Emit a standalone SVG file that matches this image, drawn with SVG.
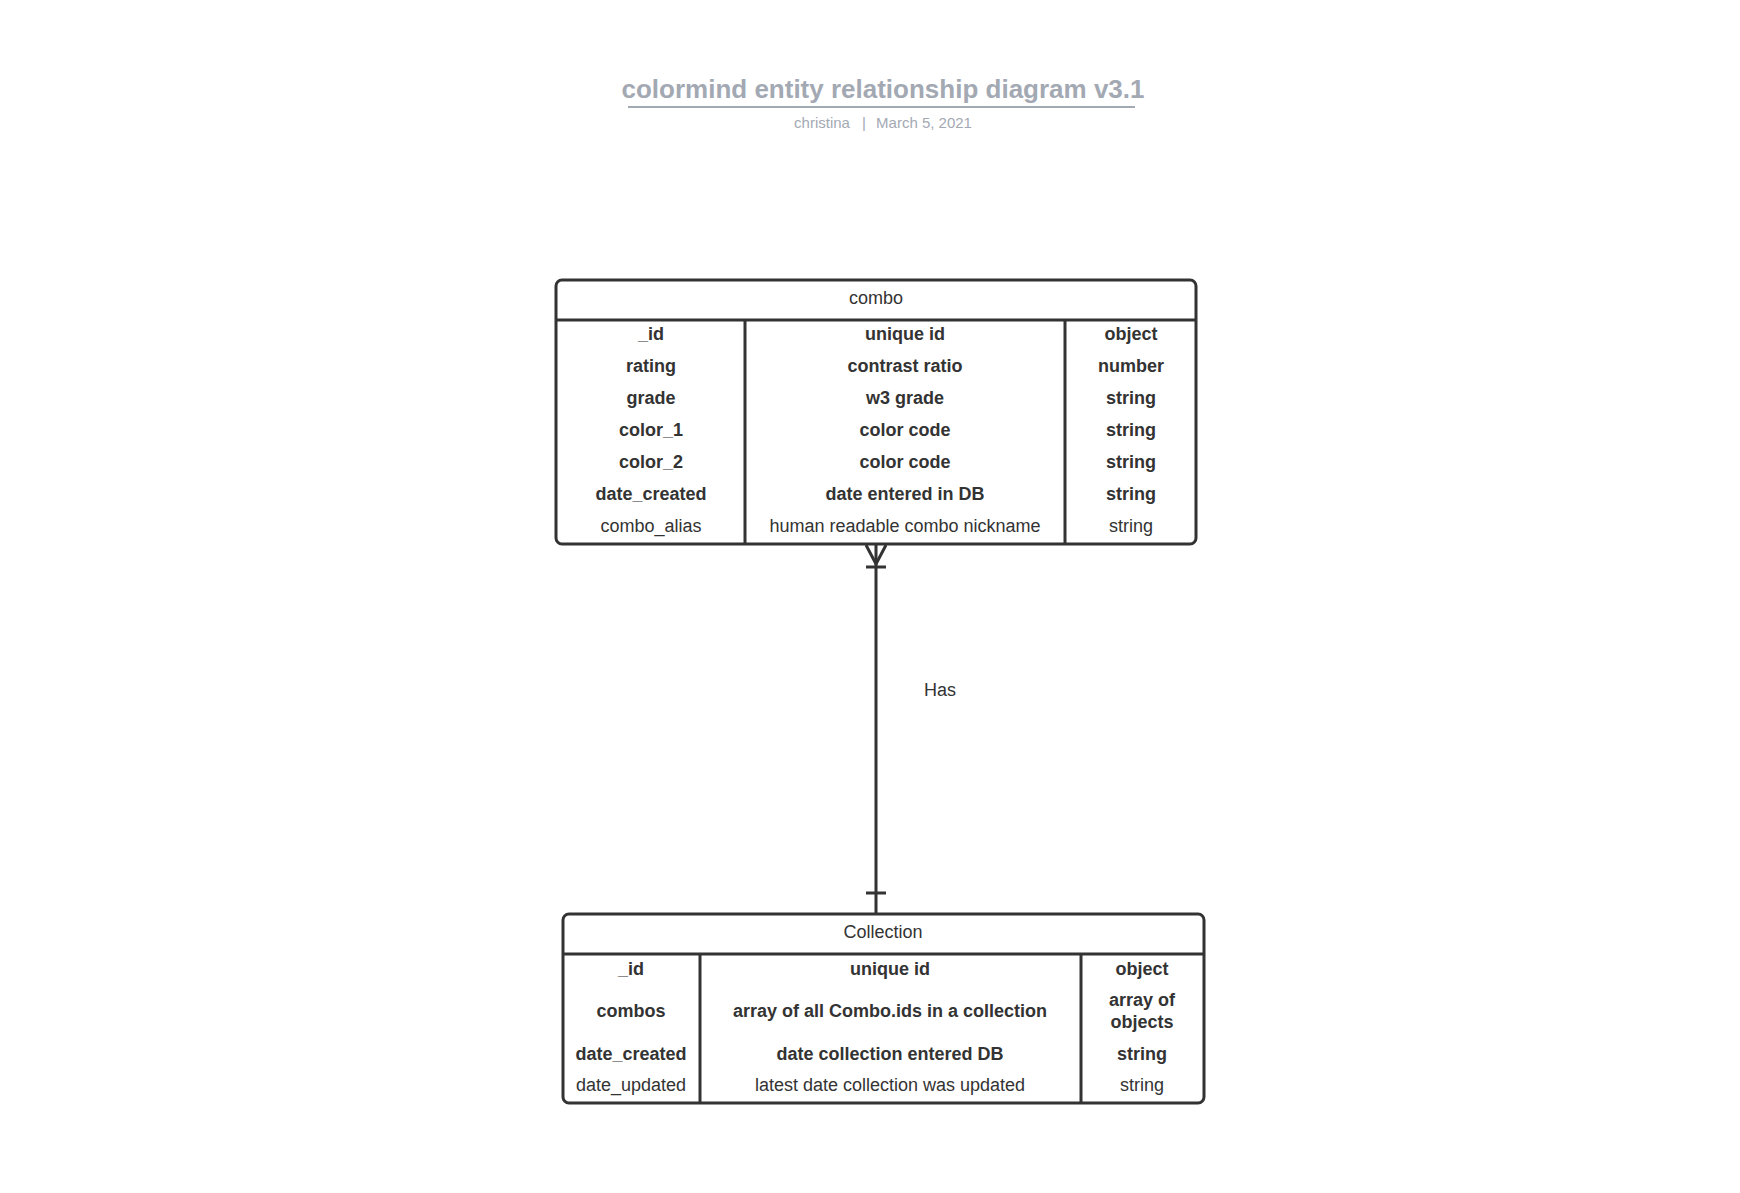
<svg xmlns="http://www.w3.org/2000/svg" width="1740" height="1193" viewBox="0 0 1740 1193">
<style>
.box{fill:#fff;stroke:#333;stroke-width:3}
.ln{stroke:#333;stroke-width:3;fill:none}
.t{font-family:"Liberation Sans",Arial,sans-serif;font-size:18px;fill:#333;text-anchor:middle}
.b{font-weight:bold}
.title{font-family:"Liberation Sans",Arial,sans-serif;font-weight:bold;font-size:26px;fill:#a3a9b3;text-anchor:middle}
.sub{font-family:"Liberation Sans",Arial,sans-serif;font-size:15px;fill:#a3a9b3;text-anchor:middle}
</style>
<rect width="1740" height="1193" fill="#fff"/>
<g id="title">
<text class="title" x="883" y="98">colormind entity relationship diagram v3.1</text>
<line x1="628" y1="107" x2="1135" y2="107" stroke="#a3a9b3" stroke-width="2"/>
<text class="sub" x="822" y="128">christina</text>
<text class="sub" x="864" y="128">|</text>
<text class="sub" x="924" y="128">March 5, 2021</text>
</g>
<g id="connectors">
<line class="ln" x1="876" y1="545" x2="876" y2="914"/>
<path class="ln" d="M866 545 L876 564 L886 545"/>
<line class="ln" x1="866" y1="567" x2="886" y2="567"/>
<line class="ln" x1="866" y1="893" x2="886" y2="893"/>
<text class="t" x="940" y="696">Has</text>
</g>
<g id="combo">
<rect class="box" x="556" y="280" width="640" height="264" rx="6"/>
<line class="ln" x1="556" y1="320" x2="1196" y2="320"/>
<line class="ln" x1="745" y1="320" x2="745" y2="544"/>
<line class="ln" x1="1065" y1="320" x2="1065" y2="544"/>
<text class="t" x="876" y="304">combo</text>
<g class="t b">
<text x="651" y="340">_id</text><text x="905" y="340">unique id</text><text x="1131" y="340">object</text>
<text x="651" y="372">rating</text><text x="905" y="372">contrast ratio</text><text x="1131" y="372">number</text>
<text x="651" y="404">grade</text><text x="905" y="404">w3 grade</text><text x="1131" y="404">string</text>
<text x="651" y="436">color_1</text><text x="905" y="436">color code</text><text x="1131" y="436">string</text>
<text x="651" y="468">color_2</text><text x="905" y="468">color code</text><text x="1131" y="468">string</text>
<text x="651" y="500">date_created</text><text x="905" y="500">date entered in DB</text><text x="1131" y="500">string</text>
</g>
<text class="t" x="651" y="532">combo_alias</text><text class="t" x="905" y="532">human readable combo nickname</text><text class="t" x="1131" y="532">string</text>
</g>
<g id="collection">
<rect class="box" x="563" y="914" width="641" height="189" rx="6"/>
<line class="ln" x1="563" y1="954" x2="1204" y2="954"/>
<line class="ln" x1="700" y1="954" x2="700" y2="1103"/>
<line class="ln" x1="1081" y1="954" x2="1081" y2="1103"/>
<text class="t" x="883" y="938">Collection</text>
<g class="t b">
<text x="631" y="975">_id</text><text x="890" y="975">unique id</text><text x="1142" y="975">object</text>
<text x="631" y="1017">combos</text><text x="890" y="1017">array of all Combo.ids in a collection</text><text x="1142" y="1006">array of</text><text x="1142" y="1028">objects</text>
<text x="631" y="1060">date_created</text><text x="890" y="1060">date collection entered DB</text><text x="1142" y="1060">string</text>
</g>
<text class="t" x="631" y="1091">date_updated</text><text class="t" x="890" y="1091">latest date collection was updated</text><text class="t" x="1142" y="1091">string</text>
</g>
</svg>
